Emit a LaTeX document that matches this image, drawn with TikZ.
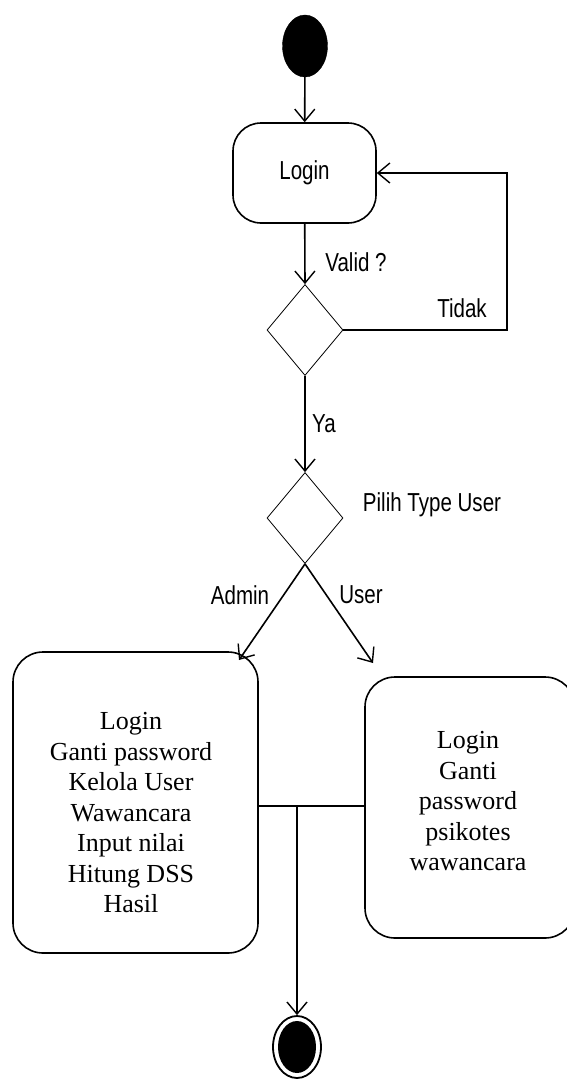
\documentclass[tikz,border=0pt]{standalone}
\usepackage{fontspec}
\setmainfont{Liberation Serif}
\newfontfamily\arialn[FakeStretch=0.79]{Liberation Sans}
\usetikzlibrary{arrows.meta,shapes.geometric}
\begin{document}
\begin{tikzpicture}[x=1pt,y=-1pt,
  conn/.style={line width=1.6pt},
  arr/.style={conn,-{Straight Barb[length=12pt,width=20pt,line width=1.4pt]}},
  actbox/.style={draw,line width=1.6pt,rounded corners=28pt,inner sep=0pt},
  decis/.style={draw,diamond,line width=0.8pt,inner sep=0pt,minimum width=76pt,minimum height=91pt},
  lbl/.style={font=\arialn\fontsize{26}{30}\selectfont,inner sep=0pt},
  srf/.style={font=\fontsize{26}{30.5}\selectfont,align=center,inner sep=0pt}]
\useasboundingbox (0,0) rectangle (567,1080);
% start
\node[ellipse,fill=black,draw,minimum width=45pt,minimum height=62pt,inner sep=0pt] (start) at (305,46) {};
% login
\node[actbox,minimum width=143pt,minimum height=100pt] (login) at (304.5,173) {};
\node[lbl] (logintxt) at (304.5,173) {Login};
% decision 1
\node[decis] (d1) at (305,330) {};
% decision 2
\node[decis] (d2) at (305,518) {};
% admin box
\node[actbox,minimum width=245pt,minimum height=301pt,rounded corners=30pt] (admin) at (135.5,802.5) {};
\node[srf] (admintxt) at (131,813) {Login\\Ganti password\\Kelola User\\Wawancara\\Input nilai\\Hitung DSS\\Hasil};
% user box
\node[actbox,minimum width=210pt,minimum height=261pt,rounded corners=30pt] (user) at (470,807.5) {};
\node[srf] (usertxt) at (468,801.5) {Login\\Ganti\\password\\psikotes\\wawancara};
% final
\node[ellipse,draw,line width=1.8pt,minimum width=48pt,minimum height=62pt,inner sep=0pt] (final) at (297,1047) {};
\node[ellipse,fill=black,minimum width=38pt,minimum height=52pt,inner sep=0pt] (finalin) at (297,1047) {};
% coordinates
\coordinate (loopc) at (507,330);
\coordinate (adminend) at (239,660);
\coordinate (userend) at (373,663);
\coordinate (joinl) at (admin.east |- 0,806);
\coordinate (joinr) at (user.west |- 0,806);
\coordinate (joinm) at (297,806);
% connectors
\draw[arr] (start) -- (login);
\draw[arr] (login) -- (d1.north);
\draw[arr] (d1.east) -- (loopc) |- (login.east);
\draw[arr] (d1.south) -- (d2.north);
\draw[arr] (d2.south) -- (adminend);
\draw[arr] (d2.south) -- (userend);
\draw[conn] (joinl) -- (joinr);
\draw[arr] (joinm) -- (final.north);
% labels
\node[lbl] (valid) at (356,262) {Valid ?};
\node[lbl] (tidak) at (462,308) {Tidak};
\node[lbl] (ya) at (324,424) {Ya};
\node[lbl] (pilih) at (432,505) {Pilih Type User};
\node[lbl] (adm) at (240,595) {Admin};
\node[lbl] (usr) at (361,595) {User};
\end{tikzpicture}
\end{document}
